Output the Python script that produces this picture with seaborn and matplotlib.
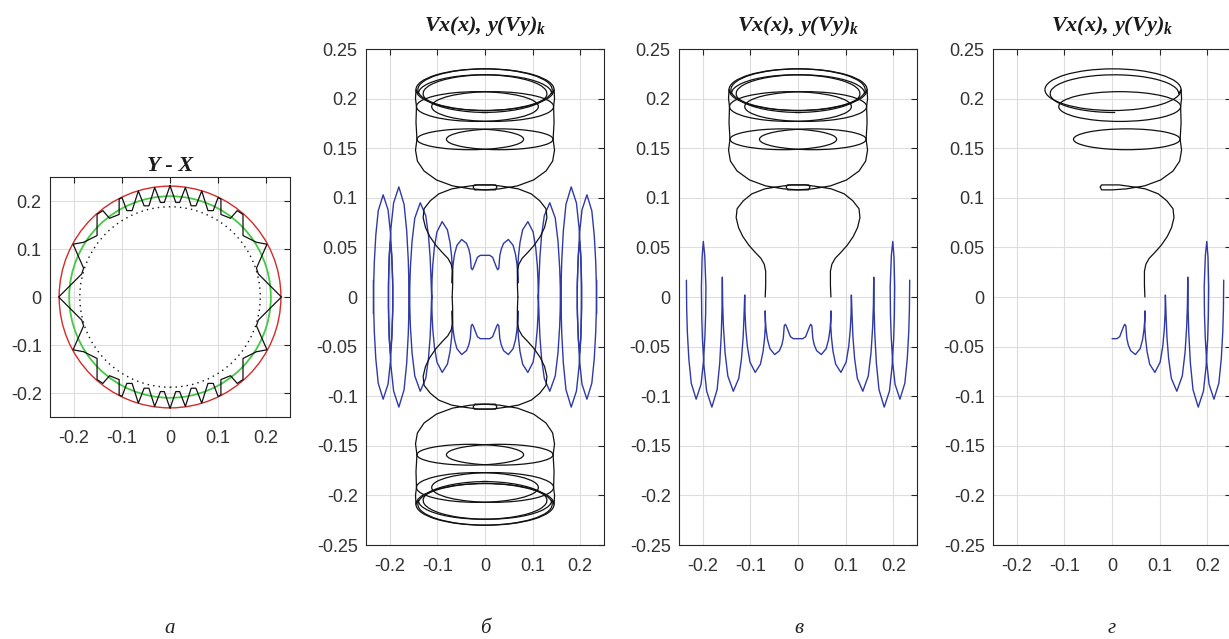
import numpy as np
import matplotlib
matplotlib.use("Agg")
import matplotlib.pyplot as plt
from matplotlib.patches import Arc, Circle
import seaborn as sns

# --- panel а: circles and one quadrant of the toothed contour (top -> left)
r_red = 0.231
r_green = 0.210
r_dots = 0.188
gear_x = [0.000, -0.012, -0.020, -0.032, -0.044, -0.054, -0.066, -0.079, -0.090,
          -0.100, -0.106, -0.106, -0.126, -0.140, -0.152, -0.152, -0.180, -0.202,
          -0.180, -0.184, -0.232]
gear_y = [0.232, 0.197, 0.197, 0.228, 0.190, 0.190, 0.221, 0.180, 0.180,
          0.207, 0.204, 0.172, 0.164, 0.180, 0.172, 0.128, 0.114, 0.110,
          0.060, 0.048, 0.000]

# --- black trajectory, right half (panel г); в mirrors it in x, б in x and y
stem_x = [0.069, 0.068, 0.068, 0.071, 0.078, 0.090, 0.103, 0.116, 0.125, 0.130,
          0.128, 0.115, 0.097, 0.070, 0.045, 0.015, -0.010, -0.022, -0.025,
          -0.022, 0.000, 0.030, 0.068, 0.102, 0.128, 0.142, 0.146, 0.143]
stem_y = [0.000, 0.012, 0.026, 0.033, 0.039, 0.045, 0.052, 0.061, 0.070, 0.080,
          0.089, 0.097, 0.104, 0.109, 0.111, 0.113, 0.113, 0.113, 0.111,
          0.108, 0.108, 0.109, 0.112, 0.118, 0.127, 0.137, 0.148, 0.159]
link_x = [0.143, 0.145, 0.144, 0.146, 0.145, 0.140]
link_y = [0.159, 0.176, 0.192, 0.200, 0.209, 0.205]
loop_cx = [0.031, 0.016, 0.002, 0.005]
loop_cy = [0.159, 0.192, 0.209, 0.205]
loop_w = [0.224, 0.256, 0.286, 0.270]
loop_h = [0.021, 0.030, 0.042, 0.038]
loop_t1 = [0, 0, 0, 0]
loop_t2 = [360, 360, 360, 275]

# --- blue curve, right half (x >= 0)
vx_x = [0.000, 0.010, 0.016, 0.020, 0.024, 0.0265,
        0.029, 0.031, 0.034, 0.039, 0.049, 0.059, 0.064, 0.067, 0.0684, 0.069,
        0.0687, 0.0702, 0.0735, 0.079, 0.090, 0.101, 0.1065, 0.1098, 0.1113, 0.112,
        0.1137, 0.1153, 0.1188, 0.1245, 0.136, 0.1475, 0.1533, 0.1567, 0.1583, 0.159,
        0.1597, 0.1612, 0.1645, 0.170, 0.181, 0.192, 0.1975, 0.2008, 0.2023, 0.203,
        0.2015, 0.199, 0.196, 0.1935,
        0.1941, 0.1956, 0.1986, 0.2037, 0.214, 0.2243, 0.2294, 0.2325, 0.2339, 0.2345]
vx_y = [-0.042, -0.042, -0.040, -0.035, -0.030, -0.0275,
        -0.029, -0.0416, -0.0482, -0.0541, -0.058, -0.0521, -0.0431, -0.0332, -0.0247, -0.014,
        -0.029, -0.041, -0.055, -0.0677, -0.076, -0.0656, -0.0496, -0.032, -0.017, 0.002,
        -0.0216, -0.0403, -0.0621, -0.082, -0.095, -0.0796, -0.056, -0.0301, -0.0079, 0.020,
        -0.0118, -0.0371, -0.0666, -0.0934, -0.111, -0.0948, -0.070, -0.0428, -0.0194, 0.010,
        0.040, 0.056, 0.042, 0.010,
        -0.0175, -0.0393, -0.0647, -0.0879, -0.103, -0.0869, -0.0623, -0.0353, -0.0122, 0.017]

xticks = [-0.2, -0.1, 0, 0.1, 0.2]
xtick_labels = ["-0.2", "-0.1", "0", "0.1", "0.2"]
yticks_a = [-0.2, -0.1, 0, 0.1, 0.2]
ytick_labels_a = ["-0.2", "-0.1", "0", "0.1", "0.2"]
yticks = [-0.25, -0.2, -0.15, -0.1, -0.05, 0, 0.05, 0.1, 0.15, 0.2, 0.25]
ytick_labels = ["-0.25", "-0.2", "-0.15", "-0.1", "-0.05", "0",
                "0.05", "0.1", "0.15", "0.2", "0.25"]
title_a = "Y - X"
title_v = "Vx(x), y(Vy)$_k$"
letters = ["а", "б", "в", "г"]

BLUE = "#2f3aa6"
BLACK = "#111111"

sns.set_style("white")
plt.rcParams["font.family"] = ["Liberation Sans", "DejaVu Sans"]
plt.rcParams["mathtext.fontset"] = "custom"
plt.rcParams["mathtext.it"] = "Liberation Serif:italic:bold"
plt.rcParams["mathtext.rm"] = "Liberation Serif:bold"

fig = plt.figure(figsize=(12.29, 6.39), dpi=100)
ax_a = fig.add_axes([0.0407, 0.3474, 0.1953, 0.3756])
ax_b = fig.add_axes([0.2978, 0.1471, 0.1937, 0.7762])
ax_v = fig.add_axes([0.5525, 0.1471, 0.1937, 0.7762])
ax_g = fig.add_axes([0.8080, 0.1471, 0.1937, 0.7762])


def style_axes(ax, yt, ylab):
    ax.set_xlim(-0.25, 0.25)
    ax.set_ylim(-0.25, 0.25)
    ax.set_xticks(xticks)
    ax.set_xticklabels(xtick_labels)
    ax.set_yticks(yt)
    ax.set_yticklabels(ylab)
    ax.set_xlabel("")
    ax.set_ylabel("")
    ax.grid(True, color="#dddddd", lw=0.8)
    ax.set_axisbelow(True)
    ax.tick_params(direction="in", length=4, width=0.8, top=True, right=True,
                   color="#262626", labelcolor="#333333", labelsize=13)
    ax.tick_params(axis="x", pad=9)
    ax.tick_params(axis="y", pad=6)
    for s in ax.spines.values():
        s.set_visible(True)
        s.set_color("#262626")
        s.set_linewidth(0.8)


def draw_black(ax, sx, sy):
    sns.lineplot(x=sx * np.array(stem_x), y=sy * np.array(stem_y), sort=False,
                 estimator=None, color=BLACK, lw=0.9, ax=ax)
    sns.lineplot(x=sx * np.array(link_x), y=sy * np.array(link_y), sort=False,
                 estimator=None, color=BLACK, lw=0.9, ax=ax)
    for cx, cy, w, h, t1, t2 in zip(loop_cx, loop_cy, loop_w, loop_h, loop_t1, loop_t2):
        if sx < 0 and sy > 0:
            a1, a2 = 180 - t2, 180 - t1
        elif sx > 0 and sy < 0:
            a1, a2 = -t2, -t1
        elif sx < 0 and sy < 0:
            a1, a2 = 180 + t1, 180 + t2
        else:
            a1, a2 = t1, t2
        ax.add_patch(Arc((sx * cx, sy * cy), w, h, theta1=a1, theta2=a2,
                         color=BLACK, lw=0.9))


vx_x_arr = np.array(vx_x)
vx_y_arr = np.array(vx_y)
full_x = np.concatenate([-vx_x_arr[::-1], vx_x_arr])
full_y = np.concatenate([vx_y_arr[::-1], vx_y_arr])

# panel а
gx = np.array(gear_x)
gy = np.array(gear_y)
gear_all_x = np.concatenate([gx, gx[::-1], -gx, -gx[::-1]])
gear_all_y = np.concatenate([gy, -gy[::-1], -gy, gy[::-1]])
ax_a.add_patch(Circle((0, 0), r_dots, fill=False, color=BLACK, lw=1.0,
                      linestyle=(0, (1, 3))))
ax_a.add_patch(Circle((0, 0), r_red, fill=False, color="#d42a2a", lw=1.0))
sns.lineplot(x=gear_all_x, y=gear_all_y, sort=False, estimator=None,
             color=BLACK, lw=0.9, ax=ax_a)
ax_a.add_patch(Circle((0, 0), r_green, fill=False, color="#45c845", lw=1.3))
style_axes(ax_a, yticks_a, ytick_labels_a)
ax_a.set_title(title_a, fontfamily="Liberation Serif", fontstyle="italic",
               fontweight="bold", fontsize=16, pad=4, color="#1a1a1a")

# panel б
sns.lineplot(x=full_x, y=full_y, sort=False, estimator=None, color=BLUE, lw=1.0, ax=ax_b)
sns.lineplot(x=full_x, y=-full_y, sort=False, estimator=None, color=BLUE, lw=1.0, ax=ax_b)
for sx in (1, -1):
    for sy in (1, -1):
        draw_black(ax_b, sx, sy)

# panel в
sns.lineplot(x=full_x, y=full_y, sort=False, estimator=None, color=BLUE, lw=1.0, ax=ax_v)
for sx in (1, -1):
    draw_black(ax_v, sx, 1)

# panel г
sns.lineplot(x=vx_x_arr, y=vx_y_arr, sort=False, estimator=None, color=BLUE, lw=1.0, ax=ax_g)
draw_black(ax_g, 1, 1)

for ax in (ax_b, ax_v, ax_g):
    style_axes(ax, yticks, ytick_labels)
    ax.set_title(title_v, fontfamily="Liberation Serif", fontstyle="italic",
                 fontweight="bold", fontsize=16, pad=13, color="#1a1a1a")

for xc, letter in zip([0.1383, 0.3946, 0.6501, 0.9048], letters):
    fig.text(xc, 0.017, letter, fontfamily="Liberation Serif", fontstyle="italic",
             fontsize=15, ha="center", va="center", color="#222222")

fig.savefig("out.png", dpi=100)
